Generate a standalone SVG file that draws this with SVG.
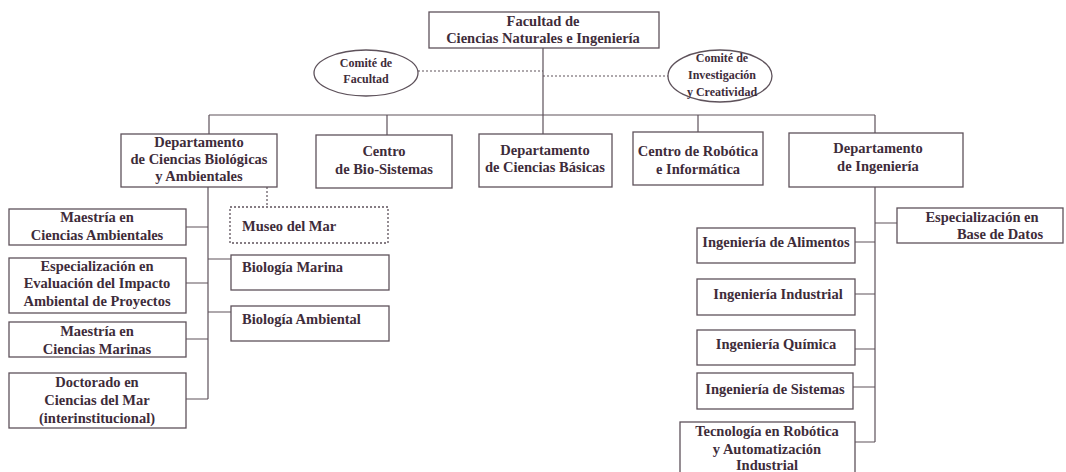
<svg xmlns="http://www.w3.org/2000/svg" width="1066" height="472" viewBox="0 0 1066 472" font-family="'Liberation Serif', 'DejaVu Serif', serif">
<style>
text{font-family:'Liberation Serif','DejaVu Serif',serif;font-weight:bold;font-size:14.5px;fill:#3e2c3a;text-anchor:middle}
.s{font-size:12px}
.l{text-anchor:start}
.box{fill:#fff;stroke:#5e525b;stroke-width:1.3}
.dbox{fill:#fff;stroke:#5e525b;stroke-width:1.3;stroke-dasharray:2 2}
.ln{fill:none;stroke:#5e525b;stroke-width:1.2}
.dl{fill:none;stroke:#5e525b;stroke-width:1.2;stroke-dasharray:2 2}
</style>
<rect width="1066" height="472" fill="#fff"/>
<g id="connectors">
<path class="ln" d="M543 48V115M209 115H875M209 115V134M387 115V135M543 115V134M698 115V132M875 115V133"/>
<path class="dl" d="M418 71H543M543 76H668"/>
<path class="ln" d="M208 187V399M186 227H208M186 283H208M186 339H208M186 399H208M208 259H231M208 312H231"/>
<path class="dl" d="M267 187V207"/>
<path class="ln" d="M875 187V442M875 223H897M855 242H875M855 294H875M855 349H875M853 387H875M855 442H875"/>
</g>
<g id="facultad"><rect class="box" x="429" y="12" width="230" height="36"/><text x="543" y="26">Facultad de</text><text x="543" y="43">Ciencias Naturales e Ingeniería</text></g>
<g id="comite-facultad"><ellipse class="box" cx="366" cy="73" rx="52" ry="23"/><text class="s" x="366" y="67">Comité de</text><text class="s" x="366" y="83">Facultad</text></g>
<g id="comite-investigacion"><ellipse class="box" cx="720" cy="76" rx="52" ry="26"/><text class="s" x="722" y="62">Comité de</text><text class="s" x="722" y="79">Investigación</text><text class="s" x="722" y="96">y Creatividad</text></g>
<g id="dept-bio"><rect class="box" x="121" y="134" width="156" height="53"/><text x="199" y="147">Departamento</text><text x="199" y="164">de Ciencias Biológicas</text><text x="199" y="181">y Ambientales</text></g>
<g id="bio-sistemas"><rect class="box" x="316" y="135" width="136" height="53"/><text x="384" y="156">Centro</text><text x="384" y="174">de Bio-Sistemas</text></g>
<g id="ciencias-basicas"><rect class="box" x="479" y="134" width="133" height="53"/><text x="545" y="155">Departamento</text><text x="545" y="172">de Ciencias Básicas</text></g>
<g id="robotica"><rect class="box" x="633" y="132" width="130" height="53"/><text x="698" y="156">Centro de Robótica</text><text x="698" y="174">e Informática</text></g>
<g id="dept-ingenieria"><rect class="box" x="789" y="133" width="174" height="54"/><text x="878" y="153">Departamento</text><text x="878" y="171">de Ingeniería</text></g>
<g id="maestria-ambientales"><rect class="box" x="9" y="209" width="177" height="36"/><text x="97" y="222">Maestría en</text><text x="97" y="240">Ciencias Ambientales</text></g>
<g id="especializacion-impacto"><rect class="box" x="9" y="258" width="177" height="55"/><text x="97" y="271">Especialización en</text><text x="97" y="288">Evaluación del Impacto</text><text x="97" y="306">Ambiental de Proyectos</text></g>
<g id="maestria-marinas"><rect class="box" x="9" y="322" width="177" height="35"/><text x="97" y="336">Maestría en</text><text x="97" y="354">Ciencias Marinas</text></g>
<g id="doctorado"><rect class="box" x="9" y="373" width="177" height="55"/><text x="97" y="387">Doctorado en</text><text x="97" y="405">Ciencias del Mar</text><text x="97" y="423">(interinstitucional)</text></g>
<g id="museo"><rect class="dbox" x="230" y="207" width="158" height="36"/><text class="l" x="242" y="231">Museo del Mar</text></g>
<g id="biologia-marina"><rect class="box" x="231" y="255" width="158" height="35"/><text class="l" x="242" y="272">Biología Marina</text></g>
<g id="biologia-ambiental"><rect class="box" x="231" y="306" width="158" height="35"/><text class="l" x="242" y="324">Biología Ambiental</text></g>
<g id="esp-base-datos"><rect class="box" x="897" y="208" width="166" height="35"/><text x="982" y="222">Especialización en</text><text x="1000" y="239">Base de Datos</text></g>
<g id="ing-alimentos"><rect class="box" x="697" y="228" width="158" height="35"/><text x="776" y="247">Ingeniería de Alimentos</text></g>
<g id="ing-industrial"><rect class="box" x="697" y="279" width="158" height="36"/><text x="778" y="299">Ingeniería Industrial</text></g>
<g id="ing-quimica"><rect class="box" x="697" y="330" width="158" height="35"/><text x="776" y="349">Ingeniería Química</text></g>
<g id="ing-sistemas"><rect class="box" x="697" y="373" width="156" height="36"/><text x="775" y="394">Ingeniería de Sistemas</text></g>
<g id="tecnologia"><rect class="box" x="680" y="422" width="175" height="53"/><text x="767" y="436">Tecnología en Robótica</text><text x="767" y="454">y Automatización</text><text x="767" y="470">Industrial</text></g>
</svg>
